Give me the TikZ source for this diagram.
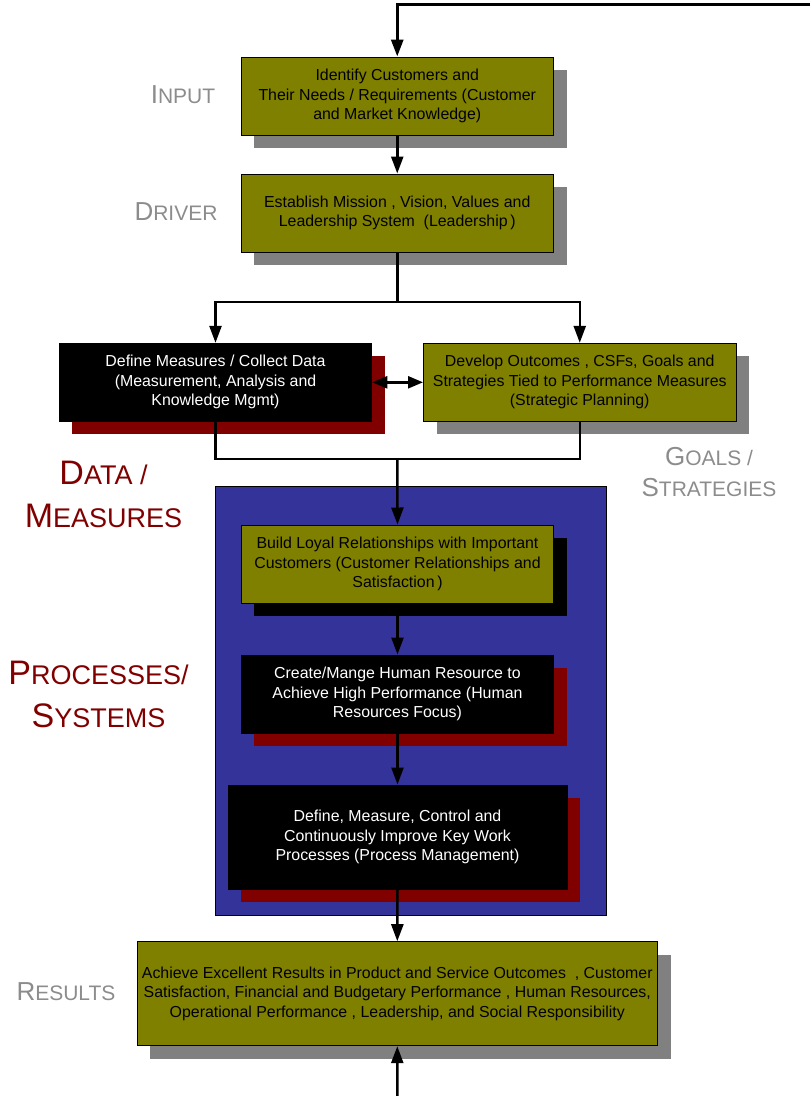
\documentclass[tikz,border=0pt]{standalone}
\usepackage{fontspec}
\setmainfont{Liberation Sans}
\usetikzlibrary{arrows.meta,shadows}
\definecolor{olivebox}{HTML}{808000}
\definecolor{shadegray}{HTML}{808080}
\definecolor{darkred}{HTML}{800000}
\definecolor{panelblue}{HTML}{333399}
\definecolor{labelgray}{HTML}{8C8C8C}
% small-caps style labels: large initial, smaller capitals after it
\newcommand\grsc[2]{{\fontsize{26}{26}\selectfont#1\fontsize{21}{21}\selectfont#2}}
\newcommand\rdsc[2]{{\fontsize{34}{34}\selectfont#1\fontsize{27}{27}\selectfont#2}}
\begin{document}
\begin{tikzpicture}[x=1pt,y=-1pt,
  boxtext/.style={font=\fontsize{15.9}{19.5}\selectfont, align=center, inner sep=0pt},
  flow/.style={boxtext, draw=black, line width=1pt, minimum width=312.5pt, minimum height=78pt},
  olive/.style={flow, fill=olivebox, text=black},
  dark/.style={flow, fill=black, text=white},
  shade/.style={drop shadow={shadow xshift=13pt, shadow yshift=-13pt, fill=#1, opacity=1}},
  conn/.style={line width=2.5pt},
  arr/.style={conn, -{Triangle[length=17pt,width=12pt]}},
  dblarr/.style={conn, {Triangle[length=15pt,width=12pt]}-{Triangle[length=15pt,width=12pt]}},
  side/.style={text=labelgray, align=center, inner sep=0pt, anchor=base, font=\fontsize{26}{31}\selectfont},
  stage/.style={text=darkred, align=center, inner sep=0pt, anchor=base, font=\fontsize{34}{43}\selectfont},
]
\useasboundingbox (0,0) rectangle (810,1096);

% blue panel holding the process steps
\node[draw=black, line width=1pt, fill=panelblue, minimum width=391pt, minimum height=429pt, inner sep=0pt] (panel) at (410.5,700.5) {};

% flow boxes
\node[olive, shade=shadegray] (need) at (397.25,96) {Identify Customers and\\Their Needs / Requirements (Customer\\and Market Knowledge)};
\node[olive, shade=shadegray] (lead) at (397.25,213) {Establish Mission , Vision, Values and\\Leadership System\ \ (Leadership\,)};
\node[dark, shade=darkred] (meas) at (215.5,382.3) {Define Measures / Collect Data\\(Measurement, Analysis and\\Knowledge Mgmt)};
\node[olive, shade=shadegray] (plan) at (579.75,382.3) {Develop Outcomes , CSFs, Goals and\\Strategies Tied to Performance Measures\\(Strategic Planning)};
\node[olive, shade=black] (cust) at (397.5,564) {Build Loyal Relationships with Important\\Customers (Customer Relationships and\\Satisfaction\,)};
\node[dark, shade=darkred] (hr) at (397.5,694) {Create/Mange Human Resource to\\Achieve High Performance (Human\\Resources Focus)};
\node[dark, shade=darkred, minimum width=339pt, minimum height=104pt] (proc) at (397.5,837) {Define, Measure, Control and\\Continuously Improve Key Work\\Processes (Process Management)};
\node[olive, shade=shadegray, minimum width=520.6pt, minimum height=104pt] (res) at (397.3,993.7) {Achieve Excellent Results in Product and Service Outcomes\ \ , Customer\\Satisfaction, Financial and Budgetary Performance , Human Resources,\\Operational Performance , Leadership, and Social Responsibility};

% side labels (anchored on the baseline of their last line)
\node[side] (input) at (183,103.5) {\grsc{I}{NPUT}};
\node[side] (driver) at (176,220) {\grsc{D}{RIVER}};
\node[side] (goals) at (709,496) {\grsc{G}{OALS /}\\\grsc{S}{TRATEGIES}};
\node[side] (results) at (66,1000) {\grsc{R}{ESULTS}};
\node[stage] (data) at (103.5,527) {\rdsc{D}{ATA /}\\\rdsc{M}{EASURES}};
\node[stage] (process) at (98.5,727) {\rdsc{P}{ROCESSES/}\\\rdsc{S}{YSTEMS}};

% junction points
\coordinate (loop) at (810,4.5);
\coordinate (split) at (397.25,302);
\coordinate (merge) at (397.25,459);
\coordinate (feed) at (397.25,1096);

% connectors
\draw[arr, line width=3pt] (loop) -| (need.north);
\draw[arr] (need.south) -- (lead.north);
\draw[conn] (lead.south) -- (split);
\draw[arr] (split) -| (meas.north);
\draw[arr] (split) -| (plan.north);
\draw[dblarr] (meas.east) -- (plan.west);
\draw[conn] (meas.south) |- (merge) -| (plan.south);
\draw[arr] (merge) -- (cust.north);
\draw[arr] (cust.south) -- (hr.north);
\draw[arr] (hr.south) -- (proc.north);
\draw[arr] (proc.south) -- (res.north);
\draw[arr] (feed) -- (res.south);
\end{tikzpicture}
\end{document}
